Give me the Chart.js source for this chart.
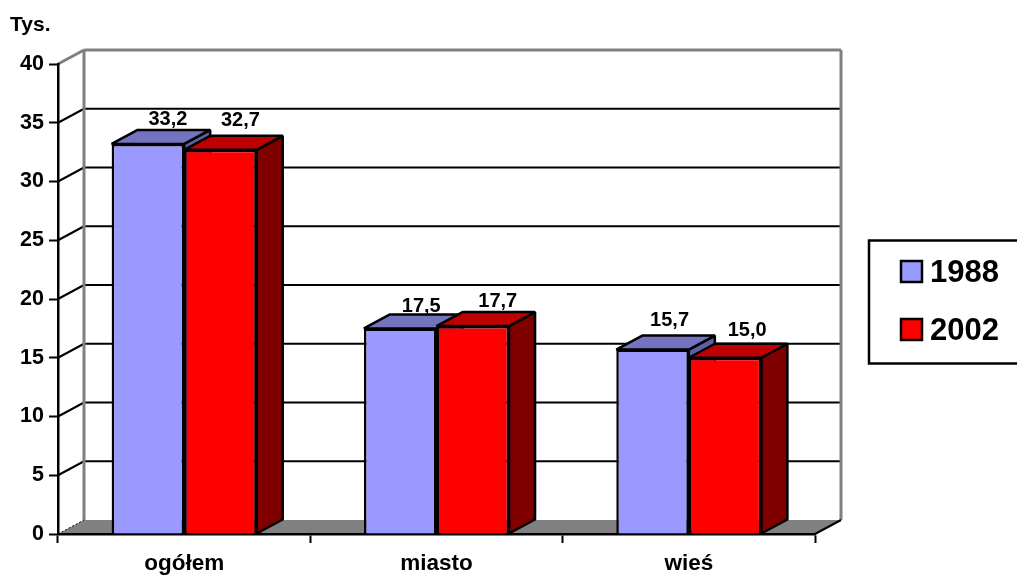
<!DOCTYPE html>
<html>
<head>
<meta charset="utf-8">
<title>Tys.</title>
<script src="https://cdn.jsdelivr.net/npm/chart.js@4"></script>
<style>
  html, body { margin: 0; padding: 0; background: #fff; overflow: hidden; }
  canvas { display: block; }
</style>
</head>
<body>
<canvas id="chart" width="1017" height="575"></canvas>
<script>
const categories = ["ogółem", "miasto", "wieś"];
const values1988 = [33.2, 17.5, 15.7];
const values2002 = [32.7, 17.7, 15.0];
const yTicks = [0, 5, 10, 15, 20, 25, 30, 35, 40];

const FONT = "'Liberation Sans', Arial, sans-serif";
// depth of the fake 3D box, in pixels
const DEPTH_X = 26;
const DEPTH_Y = 14;
// hand placed value labels, offset from the top middle of each bar front
const labelNudge = [
  [[20, -24], [21, -22], [17, -29]],
  [[20, -29], [25, -25], [22, -27]],
];

function poly(ctx, pts, fill, stroke, width) {
  ctx.beginPath();
  pts.forEach((p, i) => (i ? ctx.lineTo(p[0], p[1]) : ctx.moveTo(p[0], p[1])));
  ctx.closePath();
  if (fill) {
    ctx.fillStyle = fill;
    ctx.fill();
  }
  if (stroke) {
    ctx.strokeStyle = stroke;
    ctx.lineWidth = width || 2;
    ctx.lineJoin = "bevel";
    ctx.stroke();
  }
}

function line(ctx, x1, y1, x2, y2, color, width) {
  ctx.beginPath();
  ctx.moveTo(x1, y1);
  ctx.lineTo(x2, y2);
  ctx.strokeStyle = color;
  ctx.lineWidth = width;
  ctx.stroke();
}

// back wall, floor and grid lines
const wallPlugin = {
  id: "wall",
  beforeDraw(chart) {
    const { ctx, chartArea: a, scales } = chart;
    const y = scales.y;
    ctx.save();
    ctx.fillStyle = "#fff";
    ctx.fillRect(0, 0, chart.width, chart.height);

    const floorY = y.getPixelForValue(0);
    const topY = y.getPixelForValue(40);
    poly(ctx, [
      [a.left, floorY],
      [a.left + DEPTH_X, floorY - DEPTH_Y],
      [a.right + DEPTH_X, floorY - DEPTH_Y],
      [a.right, floorY],
    ], "#808080");

    yTicks.forEach((t) => {
      if (t === 0 || t === 40) return;
      const py = y.getPixelForValue(t);
      line(ctx, a.left, py, a.left + DEPTH_X, py - DEPTH_Y, "#000", 2);
      line(ctx, a.left + DEPTH_X, py - DEPTH_Y, a.right + DEPTH_X, py - DEPTH_Y, "#000", 2);
    });

    // grey frame of the wall
    line(ctx, a.left, topY, a.left + DEPTH_X, topY - DEPTH_Y, "#808080", 3);
    line(ctx, a.left + DEPTH_X, topY - DEPTH_Y, a.right + DEPTH_X, topY - DEPTH_Y, "#808080", 3);
    line(ctx, a.left + DEPTH_X, topY - DEPTH_Y, a.left + DEPTH_X, floorY - DEPTH_Y, "#808080", 3);
    line(ctx, a.right + DEPTH_X, topY - DEPTH_Y, a.right + DEPTH_X, floorY - DEPTH_Y, "#808080", 3);

    // floor edges
    line(ctx, a.right, floorY, a.right + DEPTH_X, floorY - DEPTH_Y, "#000", 2);
    ctx.setLineDash([2, 2]);
    line(ctx, a.left, floorY, a.left + DEPTH_X, floorY - DEPTH_Y, "#000", 1);
    ctx.setLineDash([]);
    ctx.restore();
  },
};

// top and side faces of the bars, the library draws the fronts over them
const boxPlugin = {
  id: "box",
  beforeDatasetsDraw(chart) {
    const { ctx } = chart;
    ctx.save();
    categories.forEach((c, i) => {
      chart.data.datasets.forEach((ds, d) => {
        const bar = chart.getDatasetMeta(d).data[i];
        const l = bar.x - bar.width / 2;
        const r = bar.x + bar.width / 2;
        poly(ctx, [
          [r, bar.y],
          [r + DEPTH_X, bar.y - DEPTH_Y],
          [r + DEPTH_X, bar.base - DEPTH_Y],
          [r, bar.base],
        ], ds.sideColor, "#000", 2.5);
        poly(ctx, [
          [l, bar.y],
          [l + DEPTH_X, bar.y - DEPTH_Y],
          [r + DEPTH_X, bar.y - DEPTH_Y],
          [r, bar.y],
        ], ds.topColor, "#000", 2.5);
      });
    });
    ctx.restore();
  },
};

// value labels, unit and legend
const textPlugin = {
  id: "texts",
  afterDraw(chart) {
    const { ctx } = chart;
    ctx.save();
    ctx.fillStyle = "#000";
    ctx.textBaseline = "middle";

    ctx.font = "bold 20px " + FONT;
    ctx.textAlign = "center";
    chart.data.datasets.forEach((ds, d) => {
      chart.getDatasetMeta(d).data.forEach((bar, i) => {
        const txt = ds.data[i].toFixed(1).replace(".", ",");
        ctx.fillText(txt, bar.x + labelNudge[d][i][0], bar.y + labelNudge[d][i][1]);
      });
    });

    ctx.font = "bold 21px " + FONT;
    ctx.textAlign = "left";
    ctx.fillText("Tys.", 10, 25);

    // legend, its box runs off the right edge like in the original
    ctx.strokeStyle = "#000";
    ctx.lineWidth = 2.5;
    ctx.strokeRect(869, 240.5, 160, 123);
    ctx.font = "bold 31px " + FONT;
    chart.data.datasets.forEach((ds, d) => {
      const rowY = 272 + d * 58;
      ctx.fillStyle = ds.backgroundColor;
      ctx.fillRect(901, rowY - 11, 21, 21);
      ctx.strokeRect(901, rowY - 11, 21, 21);
      ctx.fillStyle = "#000";
      ctx.fillText(ds.label, 930, rowY + 1);
    });
    ctx.restore();
  },
};

new Chart(document.getElementById("chart").getContext("2d"), {
  type: "bar",
  data: {
    labels: categories,
    datasets: [
      {
        label: "1988",
        data: values1988,
        backgroundColor: "#9999FF",
        topColor: "#7373BF",
        sideColor: "#5F5FA6",
        borderColor: "#000",
        borderWidth: 2.5,
      },
      {
        label: "2002",
        data: values2002,
        backgroundColor: "#FF0000",
        topColor: "#BF0000",
        sideColor: "#800000",
        borderColor: "#000",
        borderWidth: 2.5,
      },
    ],
  },
  plugins: [wallPlugin, boxPlugin, textPlugin],
  options: {
    responsive: false,
    animation: false,
    devicePixelRatio: 1,
    layout: {
      autoPadding: false,
      padding: { top: 64, right: 202, bottom: 0, left: 0 },
    },
    plugins: {
      legend: { display: false },
      title: { display: false },
      tooltip: { enabled: false },
    },
    scales: {
      x: {
        afterFit(scale) {
          scale.height = 41;
        },
        offset: true,
        grid: {
          offset: true,
          drawOnChartArea: false,
          tickLength: 9,
          tickWidth: 2,
          tickColor: "#000",
        },
        border: { color: "#000", width: 2.5 },
        ticks: {
          color: "#000",
          padding: 7,
          maxRotation: 0,
          font: { family: FONT, size: 22.5, weight: "bold" },
        },
      },
      y: {
        min: 0,
        max: 40,
        afterFit(scale) {
          scale.width = 58;
        },
        afterBuildTicks(scale) {
          scale.ticks = yTicks.map((v) => ({ value: v }));
        },
        grid: {
          drawOnChartArea: false,
          tickLength: 9,
          tickWidth: 2,
          tickColor: "#000",
        },
        border: { color: "#000", width: 2.5 },
        ticks: {
          color: "#000",
          padding: 5,
          font: { family: FONT, size: 21.5, weight: "bold" },
        },
      },
    },
    datasets: { bar: { categoryPercentage: 0.575, barPercentage: 1 } },
  },
});
</script>
</body>
</html>
